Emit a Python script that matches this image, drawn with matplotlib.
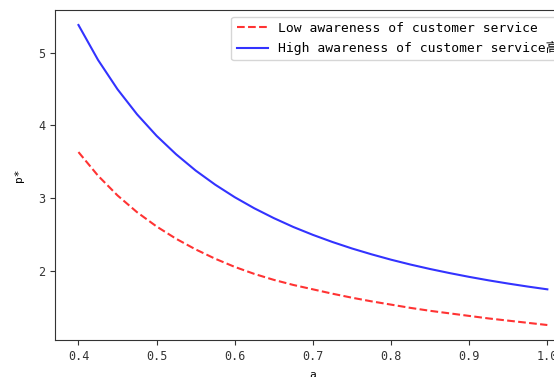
import matplotlib
matplotlib.use("Agg")
import matplotlib.pyplot as plt

plt.rcParams['font.family'] = ['DejaVu Sans Mono', 'Noto Sans CJK SC']

a_values = [0.4, 0.425, 0.45, 0.475, 0.5, 0.525, 0.55, 0.575, 0.6, 0.625, 0.65, 0.675,
            0.7, 0.725, 0.75, 0.775, 0.8, 0.825, 0.85, 0.875, 0.9, 0.925, 0.95, 0.975, 1.0]
low_awareness = [3.635, 3.311, 3.039, 2.809, 2.613, 2.444, 2.298, 2.170, 2.058, 1.962, 1.880, 1.810,
                 1.750, 1.690, 1.635, 1.585, 1.540, 1.495, 1.455, 1.420, 1.385, 1.350, 1.320, 1.290, 1.260]
high_awareness = [5.380, 4.901, 4.497, 4.153, 3.858, 3.604, 3.381, 3.187, 3.015, 2.863, 2.728, 2.606,
                  2.498, 2.400, 2.311, 2.231, 2.157, 2.090, 2.029, 1.973, 1.921, 1.873, 1.829, 1.788, 1.750]
labels = ["Low awareness of customer service", "High awareness of customer service高"]
x_ticks = [0.4, 0.5, 0.6, 0.7, 0.8, 0.9, 1.0]
y_ticks = [2, 3, 4, 5]

fig = plt.figure(figsize=(5.54, 3.77), dpi=100)
ax = fig.add_axes([0.0993, 0.0981, 0.931, 0.8754])

ax.plot(a_values, low_awareness, color='r', linestyle='--', alpha=0.8, linewidth=1.5, label=labels[0])
ax.plot(a_values, high_awareness, color='b', linestyle='-', alpha=0.8, linewidth=1.5, label=labels[1])

ax.set_xticks(x_ticks)
ax.set_xticklabels([f"{v:.1f}" for v in x_ticks])
ax.set_yticks(y_ticks)
ax.tick_params(labelsize=8.5, colors='#333333')
for s in ax.spines.values():
    s.set_color('#333333')

ax.set_xlabel("a", fontsize=8, labelpad=5.5)
ax.set_ylabel("p*", fontsize=8, labelpad=10)

ax.legend(loc='upper right', fontsize=9.4, handlelength=2.4)

fig.savefig("out.png", dpi=100)
